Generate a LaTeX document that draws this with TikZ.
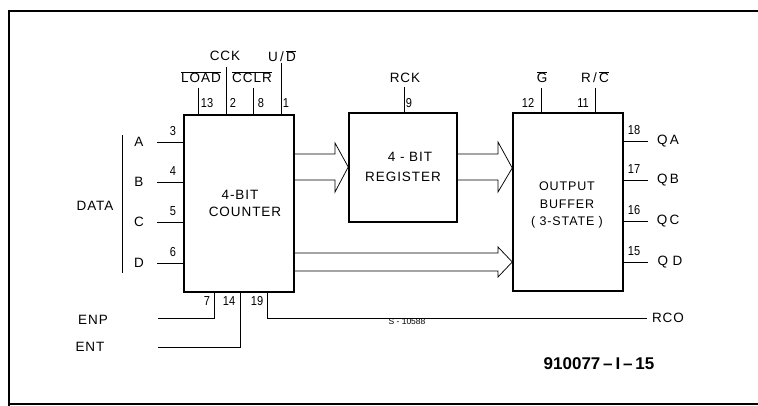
\documentclass[tikz,border=0pt]{standalone}
\usepackage{fontspec}
\setmainfont{Liberation Sans}
\newfontfamily\lblfont[LetterSpace=7]{Liberation Sans}
\newfontfamily\numfont[FakeStretch=0.85]{Liberation Sans}
\begin{document}
\begin{tikzpicture}[x=1pt,y=-1pt,
  blk/.style={draw, line width=1.5pt, inner sep=0pt},
  pin/.style={line width=0.75pt},
  frm/.style={line width=1.4pt},
  lbl/.style={inner sep=0pt, font=\lblfont\fontsize{13.5}{16}\selectfont, align=center},
  num/.style={inner sep=0pt, font=\numfont\fontsize{13}{14}\selectfont},
  big/.style={inner sep=0pt, font=\bfseries\fontsize{17}{19}\selectfont}]
\useasboundingbox (0,0) rectangle (758,406);
% frame
\coordinate (f1) at (758,11); \coordinate (f2) at (9,11); \coordinate (f3) at (9,406);
\coordinate (f4) at (9,404); \coordinate (f5) at (758,404);
\draw[frm] (f1) -- (f2) -- (f3);
\draw[frm] (f4) -- (f5);
% blocks
\node[blk, minimum width=110pt, minimum height=177pt] (cnt) at (239,203.5) {};
\node[blk, minimum width=108pt, minimum height=109pt] (reg) at (403,167.5) {};
\node[blk, minimum width=110pt, minimum height=178pt] (buf) at (568,202) {};
% block texts
\node[lbl] (t1) at (240,195) {4-BIT};
\node[lbl] (t2) at (245,212) {COUNTER};
\node[lbl] (t3) at (410,157) {4 - BIT};
\node[lbl] (t4) at (403,177) {REGISTER};
\node[lbl, font=\lblfont\fontsize{12.5}{17.5}\selectfont] (t5) at (567,205) {OUTPUT\\BUFFER\\( 3-STATE )};
% counter top pins
\coordinate (pLD) at (198,88); \coordinate (pCK) at (226,67);
\coordinate (pCL) at (253,88); \coordinate (pUD) at (281,63);
\draw[pin] (pLD) -- (pLD |- cnt.north);
\draw[pin] (pCK) -- (pCK |- cnt.north);
\draw[pin] (pCL) -- (pCL |- cnt.north);
\draw[pin] (pUD) -- (pUD |- cnt.north);
\node[lbl] (lLD) at (201,77) {$\overline{\mbox{\lblfont LOAD}}$};
\node[lbl] (lCK) at (225,56) {CCK};
\node[lbl] (lCL) at (252,77) {$\overline{\mbox{\lblfont CCLR}}$};
\node[lbl] (lUD) at (282,56) {U\,/\,$\overline{\mbox{\lblfont D}}$};
\node[num] (n13) at (207,103) {13};
\node[num] (n2) at (233,103) {2};
\node[num] (n8) at (261,103) {8};
\node[num] (n1) at (286,103) {1};
% data inputs
\foreach \nm/\y/\n/\ny in {A/142/3/131, B/182/4/171, C/222/5/211, D/263/6/252}{
  \coordinate (in\nm) at (157,\y);
  \draw[pin] (in\nm) -- (in\nm -| cnt.west);
  \node[lbl] (l\nm) at (139,\y) {\nm};
  \node[num] (n\n) at (173,\ny) {\n};
}
\coordinate (br1) at (122,135); \coordinate (br2) at (122,273);
\draw[pin] (br1) -- (br2);
\node[lbl] (ldata) at (95,206) {DATA};
% bottom pins
\coordinate (b7) at (214,318); \coordinate (b14) at (240,347); \coordinate (b19) at (267,318);
\coordinate (enp) at (158,318); \coordinate (ent) at (158,347); \coordinate (rco) at (647,318);
\draw[pin] (b7 |- cnt.south) -- (b7) -- (enp);
\draw[pin] (b14 |- cnt.south) -- (b14) -- (ent);
\draw[pin] (b19 |- cnt.south) -- (b19) -- (rco);
\node[lbl] (lenp) at (93,320) {ENP};
\node[lbl] (lent) at (90,347) {ENT};
\node[lbl] (lrco) at (668,318) {RCO};
\node[num] (n7) at (207,301) {7};
\node[num] (n14) at (229,301) {14};
\node[num] (n19) at (257,301) {19};
% register pin
\coordinate (pRCK) at (404,87);
\draw[pin] (pRCK) -- (pRCK |- reg.north);
\node[lbl] (lrck) at (405,78) {RCK};
\node[num] (n9) at (409,103) {9};
% buffer top pins
\coordinate (pG) at (541,88); \coordinate (pRC) at (595,88);
\draw[pin] (pG) -- (pG |- buf.north);
\draw[pin] (pRC) -- (pRC |- buf.north);
\node[lbl] (lG) at (542,77) {$\overline{\mbox{\lblfont G}}$};
\node[lbl] (lRC) at (595,77) {R\,/\,$\overline{\mbox{\lblfont C}}$};
\node[num] (n12) at (528,103) {12};
\node[num] (n11) at (583,103) {11};
% outputs
\foreach \nm/\y/\n/\ny in {QA/141/18/130, QB/180/17/169, QC/221/16/210, QD/262/15/251}{
  \coordinate (o\nm) at (648,\y);
  \draw[pin] (o\nm -| buf.east) -- (o\nm);
  \node[num] (n\n) at (634,\ny) {\n};
}
\node[lbl] (lQA) at (668,141) {Q\,A};
\node[lbl] (lQB) at (668,180) {Q\,B};
\node[lbl] (lQC) at (668,221) {Q\,C};
\node[lbl] (lQD) at (670,262) {Q\,\,D};
% bus arrows
\draw[pin] (cnt.east |- 0,154) -- (335,154) -- (335,143) -- (reg.west |- 0,167) -- (335,192) -- (335,180) -- (cnt.east |- 0,180);
\draw[pin] (reg.east |- 0,154) -- (498,154) -- (498,142) -- (buf.west |- 0,168) -- (498,192) -- (498,180) -- (reg.east |- 0,180);
\draw[pin] (cnt.east |- 0,253) -- (498,253) -- (498,247) -- (buf.west |- 0,262) -- (498,277) -- (498,271) -- (cnt.east |- 0,271);
% captions
\node[inner sep=0pt, font=\fontsize{8.5}{9}\selectfont] (code) at (407,322) {S - 10588};
\node[big] (fig) at (599,364) {910077\,--\,I\,--\,15};
\end{tikzpicture}
\end{document}
